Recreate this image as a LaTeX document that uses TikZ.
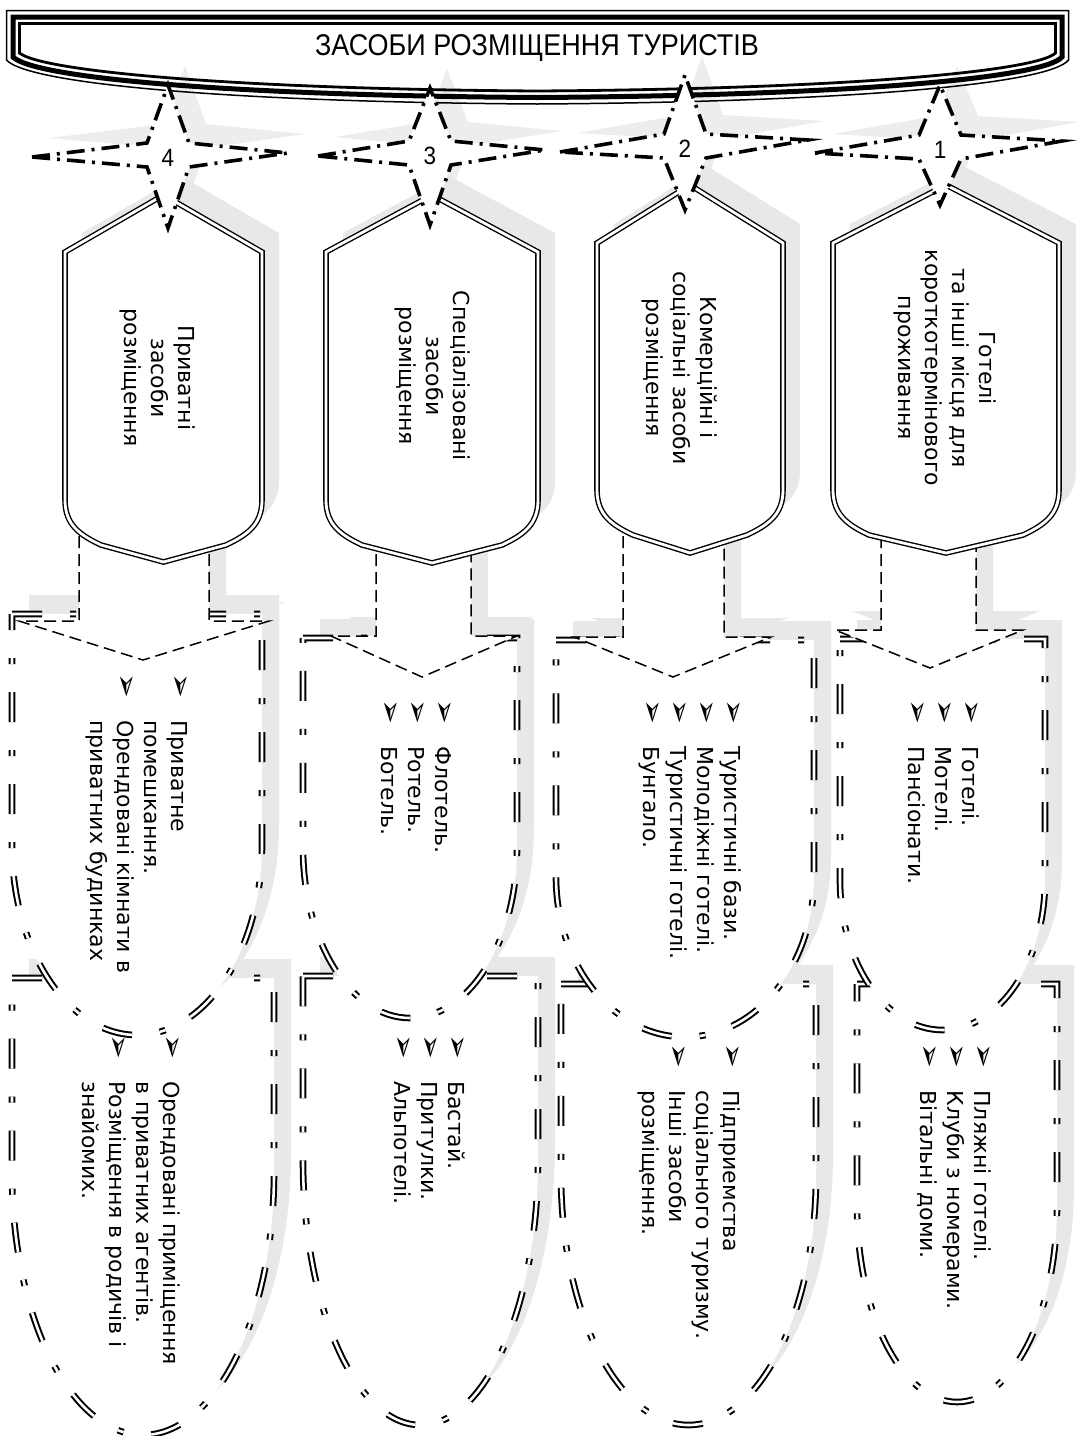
\documentclass[tikz,border=0pt]{standalone}
\usepackage{fontspec}
\setmainfont{DejaVu Sans}
\newfontfamily\narrowfont[FakeStretch=0.9]{Liberation Sans}
\definecolor{shadowgray}{RGB}{232,232,232}
\newcommand{\bul}{\makebox[23.5pt][l]{\scalebox{1.35}{➢}}}
\newcommand{\cont}{\hspace*{23.5pt}}

\begin{document}
\begin{tikzpicture}[x=0.5pt, y=-0.5pt,
    shade/.style={fill=shadowgray, draw=none, shift={(17,-19)}},
    ubox/.style={fill=white, draw=black, line width=1pt, double=white, double distance=1.3pt, dash pattern=on 15pt off 14pt on 3pt off 14pt},
    blockarrow/.style={fill=white, draw=black, line width=0.75pt, dash pattern=on 6pt off 3pt},
    shieldbox/.style={fill=white, draw=black, line width=0.7pt, double=white, double distance=1.4pt},
    starbox/.style={fill=white, draw=black, line width=1.8pt, dash pattern=on 9pt off 3.5pt on 1.5pt off 3.5pt},
    boxtext/.style={rotate=-90, align=center, inner sep=0pt, font=\fontsize{11}{13.5}\selectfont},
    listtext/.style={rotate=-90, align=left, anchor=north west, inner sep=0pt, font=\fontsize{11}{13.5}\selectfont},
    numtext/.style={inner sep=0pt, font=\narrowfont\fontsize{12.5}{14}\selectfont}]
    \useasboundingbox (0,0) rectangle (1082,1436);

    % Lower frames
    \foreach \xl/\xr/\yt/\yc/\ry in {12/274/978/1173/262, 303/538/976/1160/265, 561/816/984/1175/250, 857/1057/984/1206/196} {
        \fill[shade] (\xl,\yt) -- (\xr,\yt) -- (\xr,\yc) arc[start angle=0, end angle=180, x radius={(\xr-\xl)/2}, y radius=\ry] -- cycle;
        \draw[ubox] (\xl,\yt) -- (\xr,\yt) -- (\xr,\yc) arc[start angle=0, end angle=180, x radius={(\xr-\xl)/2}, y radius=\ry] -- cycle;
    }

    % Arrow shadows
    \foreach \sl/\sr/\ys/\wl/\wr/\tx/\ty in {79/209/621/19/269/143/660, 376/471/636/331/517/422/677, 623/724/637/574/771/673/677, 881/976/630/835/1023/930/668}
        \fill[shade] (\sl,500) -- (\sl,\ys) -- (\wl,\ys) -- (\tx,\ty) -- (\wr,\ys) -- (\sr,\ys) -- (\sr,500) -- cycle;

    % Upper frames
    \foreach \xl/\xr/\yt/\yc/\ry in {12/262/614/845/190, 303/517/638/848/170, 556/814/640/877/160, 840/1045/639/880/150} {
        \fill[shade] (\xl,\yt) -- (\xr,\yt) -- (\xr,\yc) arc[start angle=0, end angle=180, x radius={(\xr-\xl)/2}, y radius=\ry] -- cycle;
        \draw[ubox] (\xl,\yt) -- (\xr,\yt) -- (\xr,\yc) arc[start angle=0, end angle=180, x radius={(\xr-\xl)/2}, y radius=\ry] -- cycle;
    }

    % Block arrows
    \foreach \sl/\sr/\ys/\wl/\wr/\tx/\ty in {79/209/621/19/269/143/660, 376/471/636/331/517/422/677, 623/724/637/574/771/673/677, 881/976/630/835/1023/930/668}
        \draw[blockarrow] (\sl,500) -- (\sl,\ys) -- (\wl,\ys) -- (\tx,\ty) -- (\wr,\ys) -- (\sr,\ys) -- (\sr,500) -- cycle;

    % Star shadows
    \foreach \cx/\cy/\L/\R/\T/\B/\a in {168/155/136/120/70/73/2, 430/153/112/115/65/72/3, 685/146/125/123/71/64/6, 940/147/125/122/62/58/6}
        \fill[shade, fill=shadowgray!80] (\cx-\L,\cy+\a) -- (\cx-21,\cy-12) -- (\cx,\cy-\T) -- (\cx+21,\cy-12) -- (\cx+\R,\cy-\a) -- (\cx+21,\cy+12) -- (\cx,\cy+\B) -- (\cx-21,\cy+12) -- cycle;

    % Category shields
    \foreach \xl/\xr/\ya/\yr/\ys/\yb in {65/262/195/252/500/562, 326/538/195/252/500/563, 597/783/185/243/490/553, 833/1059/185/243/490/553} {
        \fill[shade] (\xl,\yr) -- ({(\xl+\xr)/2},\ya) -- (\xr,\yr) -- (\xr,\ys) .. controls (\xr,\ys+25) and (\xr-15,\ys+35) .. (\xr-36,\ys+45) -- ({(\xl+\xr)/2},\yb) -- (\xl+36,\ys+45) .. controls (\xl+15,\ys+35) and (\xl,\ys+25) .. (\xl,\ys) -- cycle;
        \draw[shieldbox] (\xl,\yr) -- ({(\xl+\xr)/2},\ya) -- (\xr,\yr) -- (\xr,\ys) .. controls (\xr,\ys+25) and (\xr-15,\ys+35) .. (\xr-36,\ys+45) -- ({(\xl+\xr)/2},\yb) -- (\xl+36,\ys+45) .. controls (\xl+15,\ys+35) and (\xl,\ys+25) .. (\xl,\ys) -- cycle;
    }

    % Title banner
    \draw[line width=0.75pt] (6.5,10.5) -- (1068.5,10.5) -- (1068.5,60) .. controls (1050,84) and (850,102) .. (537,104) .. controls (230,102) and (28,84) .. (6.5,60) -- cycle;
    \draw[line width=2.5pt] (13,17) -- (1062,17) -- (1062,57) .. controls (1044,78) and (850,95.5) .. (537,97.5) .. controls (230,95.5) and (34,78) .. (13,57) -- cycle;
    \draw[line width=1.4pt] (19.5,23.5) -- (1055.5,23.5) -- (1055.5,53) .. controls (1037,71) and (850,89) .. (537,91) .. controls (230,89) and (41,71) .. (19.5,53) -- cycle;
    \node[inner sep=0pt, font=\narrowfont\fontsize{15}{18}\selectfont] (title) at (537,48) {ЗАСОБИ РОЗМІЩЕННЯ ТУРИСТІВ};

    % Stars
    \foreach \cx/\cy/\L/\R/\T/\B/\a in {168/155/136/120/70/73/2, 430/153/112/115/65/72/3, 685/146/125/123/71/64/6, 940/147/125/122/62/58/6}
        \draw[starbox] (\cx-\L,\cy+\a) -- (\cx-21,\cy-12) -- (\cx,\cy-\T) -- (\cx+21,\cy-12) -- (\cx+\R,\cy-\a) -- (\cx+21,\cy+12) -- (\cx,\cy+\B) -- (\cx-21,\cy+12) -- cycle;
    \node[numtext] (n4) at (168,158) {4};
    \node[numtext] (n3) at (430,156) {3};
    \node[numtext] (n2) at (685,149) {2};
    \node[numtext] (n1) at (940,150) {1};

    % Category texts
    \node[boxtext] (cat4) at (158,378) {Приватні\\засоби\\розміщення};
    \node[boxtext] (cat3) at (433,376) {Спеціалізовані\\засоби\\розміщення};
    \node[boxtext] (cat2) at (680,368) {Комерційні і\\соціальні засоби\\розміщення};
    \node[boxtext] (cat1) at (945,368) {Готелі\\та інші місця для\\короткотермінового\\проживання};

    % Upper lists
    \node[listtext] (list4a) at (188,673) {\bul Приватне\\\cont помешкання.\\\bul Орендовані кімнати в\\\cont приватних будинках};
    \node[listtext] (list3a) at (452,699) {\bul Флотель.\\\bul Ротель.\\\bul Ботель.};
    \node[listtext] (list2a) at (742,699) {\bul Туристичні бази.\\\bul Молодіжні готелі.\\\bul Туристичні готелі.\\\bul Бунгало.};
    \node[listtext] (list1a) at (980,699) {\bul Готелі.\\\bul Мотелі.\\\bul Пансіонати.};

    % Lower lists
    \node[listtext] (list4b) at (181,1034) {\bul Орендовані приміщення\\\cont в приватних агентів.\\\bul Розміщення в родичів і\\\cont знайомих.};
    \node[listtext] (list3b) at (466,1034) {\bul Бастай.\\\bul Притулки.\\\bul Альпотелі.};
    \node[listtext] (list2b) at (741,1043) {\bul Підприемства\\\cont соціального туризму.\\\bul Інші засоби\\\cont розміщення.};
    \node[listtext] (list1b) at (992,1043) {\bul Пляжні готелі.\\\bul Клуби з номерами.\\\bul Вітальні доми.};
\end{tikzpicture}
\end{document}
